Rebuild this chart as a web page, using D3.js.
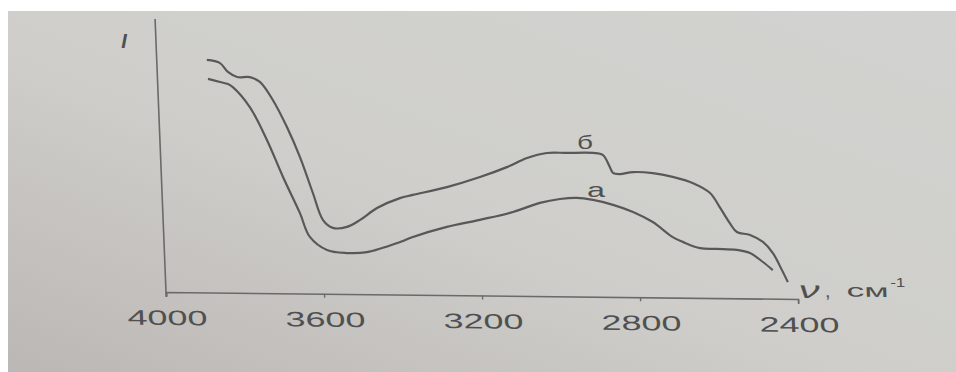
<!DOCTYPE html>
<html><head><meta charset="utf-8">
<script src="https://cdn.jsdelivr.net/npm/d3@7"></script>
<style>html,body{margin:0;padding:0;background:#fff;}svg{display:block;}</style>
</head><body>
<script>
// Wavenumbers (cm^-1) and relative intensity for curve "а" (lower)
const waveA = [3872,3842,3822,3810,3769,3729,3692,3653,3630,3588,3538,3487,3402,3369,3282,3198,3113,3044,2993,2950,2909,2859,2809,2760,2711,2686,2643,2601,2550,2517,2485,2461];
const intA  = [77.7,76.6,75.9,74.8,67.6,55.7,42.3,29.3,20.6,15.9,14.9,15.3,19.1,21.0,24.8,27.5,30.5,33.9,35.4,35.9,35.2,33.5,31.0,27.4,22.0,20.3,18.1,17.9,17.6,16.5,13.3,10.4];
// Curve "б" (upper)
const waveB = [3873,3840,3821,3798,3766,3741,3710,3677,3647,3618,3595,3571,3535,3501,3457,3398,3365,3278,3193,3124,3072,3021,2970,2905,2880,2863,2856,2839,2805,2755,2705,2654,2612,2589,2565,2548,2515,2483,2459,2438,2424];
const intB  = [84.6,83.5,80.3,78.5,78.5,76.8,70.3,60.5,49.6,36.6,26.8,24.0,24.4,27.0,31.4,35.1,36.3,39.3,43.1,46.8,50.2,52.1,52.2,52.3,51.6,47.2,45.1,44.7,45.5,45.2,43.9,41.7,38.2,33.1,27.3,24.1,23.1,20.6,16.6,10.5,6.1];
const xTicks = [4000,3600,3200,2800,2400];
const curveLabels = ["б","а"];
const yLabel = "I";
const xLabelSym = "ν", xLabelUnit = "см", xLabelExp = "-1";

const W = 956, H = 372;
const svg = d3.select("body").append("svg").attr("width", W).attr("height", H);
const defs = svg.append("defs");
const grad = defs.append("linearGradient").attr("id","paper")
  .attr("x1","0").attr("y1","1").attr("x2","1").attr("y2","0");
grad.append("stop").attr("offset","0%").attr("stop-color","#bbb7b4");
grad.append("stop").attr("offset","45%").attr("stop-color","#cfcecb");
grad.append("stop").attr("offset","100%").attr("stop-color","#d2d3d0");
svg.append("rect").attr("width",W).attr("height",H).attr("fill","#ffffff");
svg.append("rect").attr("x",8).attr("y",11).attr("width",W-8).attr("height",H-11).attr("fill","url(#paper)");

const ink = "#585858", txt = "#505050";
const x = d3.scaleLinear().domain([4000,2400]).range([0,632]);
const y = d3.scaleLinear().domain([0,100]).range([0,-275]);

// chart frame (photo is slightly skewed)
const g = svg.append("g").attr("transform","matrix(1,0.011,0.04,1,166,292)");

const axis = d3.axisBottom(x).tickValues(xTicks).tickFormat(d3.format("d"))
  .tickSizeInner(4).tickSizeOuter(5);
const ax = g.append("g").call(axis);
ax.select(".domain").attr("stroke","#6a6a6a").attr("stroke-width",1.6);
ax.selectAll(".tick line").attr("stroke","#6a6a6a").attr("stroke-width",1.4);
ax.selectAll(".tick text")
  .attr("y",33).attr("dy",null)
  .attr("font-family","Liberation Sans, Arial, sans-serif")
  .attr("font-size",21).attr("fill",txt)
  .attr("textLength",80).attr("lengthAdjust","spacingAndGlyphs");

g.append("line").attr("x1",0).attr("x2",0).attr("y1",5).attr("y2",y(99.3))
  .attr("stroke","#6a6a6a").attr("stroke-width",1.6);

const line = d3.line().curve(d3.curveCatmullRom.alpha(0.5))
  .x(d => x(d[0])).y(d => y(d[1]));
g.append("path").datum(waveA.map((w,i)=>[w,intA[i]]))
  .attr("d",line).attr("fill","none").attr("stroke",ink).attr("stroke-width",2.2);
g.append("path").datum(waveB.map((w,i)=>[w,intB[i]]))
  .attr("d",line).attr("fill","none").attr("stroke",ink).attr("stroke-width",2.2);

// axis title
const ff = "Liberation Sans, Arial, sans-serif";
g.append("text").attr("x",633).attr("y",-1).text(xLabelSym)
  .attr("font-family",ff).attr("font-style","italic").attr("font-size",24).attr("fill",txt)
  .attr("textLength",21).attr("lengthAdjust","spacingAndGlyphs");
g.append("text").attr("x",659).attr("y",-2).text(",")
  .attr("font-family",ff).attr("font-size",20).attr("fill",txt);
g.append("text").attr("x",681).attr("y",-3).text(xLabelUnit)
  .attr("font-family",ff).attr("font-size",18).attr("fill",txt)
  .attr("textLength",42).attr("lengthAdjust","spacingAndGlyphs");
g.append("text").attr("x",725).attr("y",-13).text(xLabelExp)
  .attr("font-family",ff).attr("font-size",13).attr("fill",txt)
  .attr("textLength",15).attr("lengthAdjust","spacingAndGlyphs");

svg.append("text").attr("x",124).attr("y",48).text(yLabel)
  .attr("font-family",ff).attr("font-style","italic").attr("font-weight","bold")
  .attr("font-size",20).attr("fill",txt).attr("text-anchor","middle");

svg.append("text").attr("x",585).attr("y",149).text(curveLabels[0])
  .attr("font-family",ff).attr("font-size",18).attr("fill",txt).attr("text-anchor","middle")
  .attr("textLength",16).attr("lengthAdjust","spacingAndGlyphs");
svg.append("text").attr("x",596).attr("y",197).text(curveLabels[1])
  .attr("font-family",ff).attr("font-size",21).attr("fill",txt).attr("text-anchor","middle")
  .attr("textLength",18).attr("lengthAdjust","spacingAndGlyphs");
</script>
</body></html>
